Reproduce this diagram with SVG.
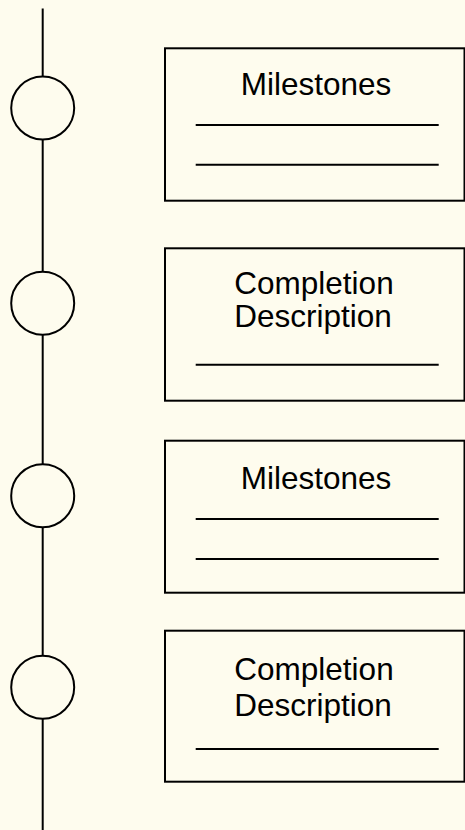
<svg xmlns="http://www.w3.org/2000/svg" width="465" height="830" viewBox="0 0 465 830">
<style>
.bg{fill:#FEFCEE}
.node circle{fill:none;stroke:#000;stroke-width:2}
.box{fill:none;stroke:#000;stroke-width:2}
.rule{stroke:#000;stroke-width:2}
.conn line{stroke:#000;stroke-width:2}
text{font-family:"Liberation Sans",Arial,Helvetica,sans-serif;font-size:31.5px;fill:#000;text-anchor:middle}
</style>
<rect class="bg" x="0" y="0" width="465" height="830"/>
<g id="connectors" class="conn">
<line x1="42.7" y1="8.5" x2="42.7" y2="76.5"/>
<line x1="42.7" y1="139.5" x2="42.7" y2="271.8"/>
<line x1="42.7" y1="334.8" x2="42.7" y2="464.2"/>
<line x1="42.7" y1="527.2" x2="42.7" y2="655.8"/>
<line x1="42.7" y1="718.8" x2="42.7" y2="830"/>
</g>
<g id="circle1" class="node"><circle cx="42.7" cy="108" r="31.5"/></g>
<g id="circle2" class="node"><circle cx="42.7" cy="303.3" r="31.5"/></g>
<g id="circle3" class="node"><circle cx="42.7" cy="495.7" r="31.5"/></g>
<g id="circle4" class="node"><circle cx="42.7" cy="687.3" r="31.5"/></g>
<g id="box1">
<rect class="box" x="165" y="48.3" width="299.5" height="152.4"/>
<text x="316" y="95">Milestones</text>
<line class="rule" x1="195.7" y1="125" x2="438.7" y2="125"/>
<line class="rule" x1="195.7" y1="164.7" x2="438.7" y2="164.7"/>
</g>
<g id="box2">
<rect class="box" x="165" y="248.3" width="299.5" height="152.4"/>
<text x="314" y="294">Completion</text>
<text x="313" y="326.5">Description</text>
<line class="rule" x1="195.7" y1="364.7" x2="438.7" y2="364.7"/>
</g>
<g id="box3">
<rect class="box" x="165" y="440.7" width="299.5" height="152"/>
<text x="316" y="489">Milestones</text>
<line class="rule" x1="195.7" y1="519" x2="438.7" y2="519"/>
<line class="rule" x1="195.7" y1="559" x2="438.7" y2="559"/>
</g>
<g id="box4">
<rect class="box" x="165" y="630.7" width="299.5" height="151"/>
<text x="314" y="680">Completion</text>
<text x="313" y="716">Description</text>
<line class="rule" x1="195.7" y1="749" x2="438.7" y2="749"/>
</g>
</svg>
